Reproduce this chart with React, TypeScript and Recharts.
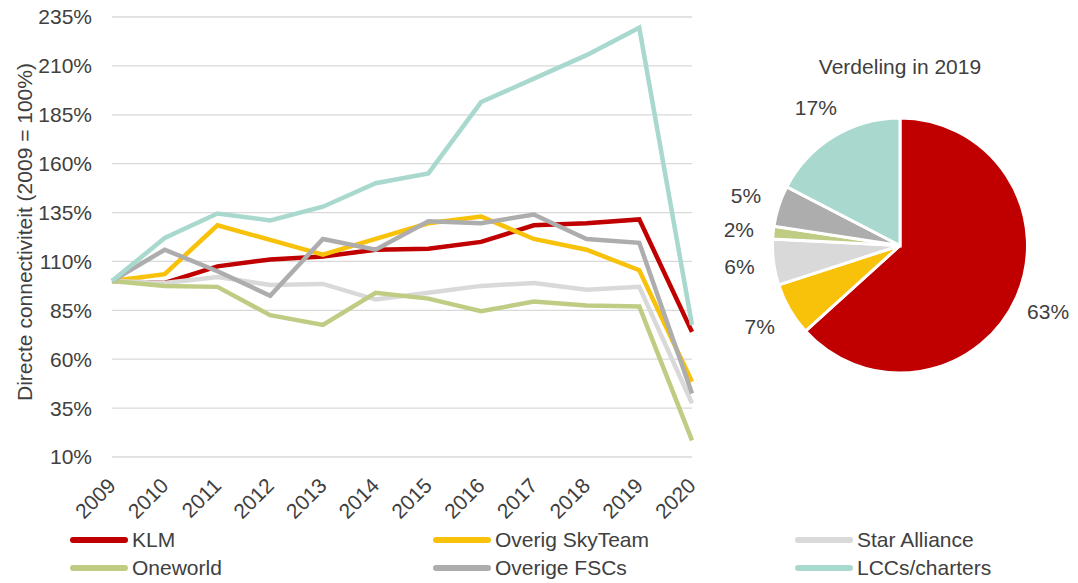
import { CartesianGrid, Cell, Line, LineChart, Pie, PieChart, XAxis, YAxis } from "recharts";

const years = ["2009", "2010", "2011", "2012", "2013", "2014", "2015", "2016", "2017", "2018", "2019", "2020"];
const klm = [100, 99, 107.5, 111, 112.5, 116, 116.5, 120, 128.5, 129.5, 131.5, 74];
const skyTeam = [100, 103.5, 128.5, 121, 113.5, 121.5, 129.5, 133, 121.5, 116, 105.5, 48.5];
const starAlliance = [100, 99, 102, 98, 98.5, 90.5, 94, 97.5, 99, 95.5, 97, 37.5];
const oneworld = [100, 97.5, 97, 82.5, 77.5, 94, 91, 84.5, 89.5, 87.5, 87, 18.5];
const otherFsc = [100, 116, 105, 92.5, 121.5, 116, 130.5, 129.5, 134, 121.5, 119.5, 42.5];
const lcc = [100, 122, 134.5, 131, 138, 150, 155, 191.5, 203.5, 215.5, 229.5, 77.5];
const yTicks = [10, 35, 60, 85, 110, 135, 160, 185, 210, 235];

const seriesNames = ["KLM", "Overig SkyTeam", "Star Alliance", "Oneworld", "Overige FSCs", "LCCs/charters"];
const seriesKeys = ["klm", "skyTeam", "starAlliance", "oneworld", "otherFsc", "lcc"];
const seriesColors = ["#C00000", "#F8C10A", "#D9D9D9", "#BFCD84", "#ADADAD", "#A9D9CE"];

// share of 2019 connectivity, same order as the series
const share2019 = [63.3, 6.7, 5.8, 1.6, 5.2, 17.4];

const TEXT = "#404040";
const FONT = "'Liberation Sans', Arial, sans-serif";

const rows = years.map((year, i) => ({
  year,
  klm: klm[i],
  skyTeam: skyTeam[i],
  starAlliance: starAlliance[i],
  oneworld: oneworld[i],
  otherFsc: otherFsc[i],
  lcc: lcc[i]
}));

const pieData = seriesNames.map((name, i) => ({ name, value: share2019[i] }));

function YearTick({ x, y, payload }: { x?: number; y?: number; payload?: { value: string } }) {
  const tx = (x ?? 0) + 5;
  const ty = (y ?? 0) + 22;
  return (
    <text x={tx} y={ty} transform={`rotate(-45 ${tx} ${ty})`} textAnchor="end" fill={TEXT} fontSize={21}>
      {payload?.value}
    </text>
  );
}

function AxisTitle() {
  return (
    <text x={24} y={232} transform="rotate(-90 24 232)" textAnchor="middle" dominantBaseline="central" fill={TEXT} fontSize={21}>
      Directe connectiviteit (2009 = 100%)
    </text>
  );
}

const RAD = Math.PI / 180;

function ShareLabel(props: { cx: number; cy: number; midAngle: number; value: number }) {
  const r = 162;
  const x = props.cx + r * Math.cos(-props.midAngle * RAD);
  const y = props.cy + r * Math.sin(-props.midAngle * RAD);
  return (
    <text x={x} y={y} textAnchor="middle" dominantBaseline="central" fill={TEXT} fontSize={21}>
      {Math.round(props.value)}%
    </text>
  );
}

const legendCols = [70, 433, 795];
const legendRows = [540, 568];

export default function App() {
  return (
    <div style={{ position: "absolute", left: 0, top: 0, width: 1078, height: 583, background: "#fff", fontFamily: FONT, color: TEXT }}>
      <div style={{ position: "absolute", left: 0, top: 0 }}>
        <LineChart width={700} height={583} data={rows} margin={{ top: 17, right: 8, bottom: 0, left: 0 }}>
          <CartesianGrid stroke="#D9D9D9" strokeWidth={1.3} vertical={false} />
          <XAxis dataKey="year" height={126} axisLine={false} tickLine={false} interval={0} tick={<YearTick />} />
          <YAxis
            width={112}
            domain={[10, 235]}
            ticks={yTicks}
            axisLine={false}
            tickLine={false}
            tickMargin={14}
            tick={{ fill: TEXT, fontSize: 21 }}
            tickFormatter={(v) => `${v}%`}
            label={<AxisTitle />}
          />
          {seriesKeys.map((key, i) => (
            <Line
              key={key}
              dataKey={key}
              name={seriesNames[i]}
              stroke={seriesColors[i]}
              strokeWidth={4.5}
              dot={false}
              isAnimationActive={false}
            />
          ))}
        </LineChart>
      </div>

      <div style={{ position: "absolute", left: 700, top: 53, width: 400, textAlign: "center", fontSize: 21, lineHeight: "28px" }}>
        Verdeling in 2019
      </div>
      <div style={{ position: "absolute", left: 700, top: 0 }}>
        <PieChart width={378} height={583} margin={{ top: 0, right: 0, bottom: 0, left: 0 }}>
          <Pie
            data={pieData}
            dataKey="value"
            cx={200}
            cy={245.5}
            outerRadius={127.5}
            startAngle={90}
            endAngle={-270}
            stroke="#fff"
            strokeWidth={3}
            labelLine={false}
            label={ShareLabel}
            isAnimationActive={false}
          >
            {pieData.map((d, i) => (
              <Cell key={d.name} fill={seriesColors[i]} />
            ))}
          </Pie>
        </PieChart>
      </div>

      {seriesNames.map((name, i) => {
        const left = legendCols[i % 3];
        const top = legendRows[Math.floor(i / 3)];
        return (
          <div key={name} style={{ position: "absolute", left, top: top - 14, height: 28, display: "flex", alignItems: "center", fontSize: 21 }}>
            <span style={{ width: 58, height: 6, borderRadius: 3, background: seriesColors[i], marginRight: 4 }} />
            <span>{name}</span>
          </div>
        );
      })}
    </div>
  );
}
